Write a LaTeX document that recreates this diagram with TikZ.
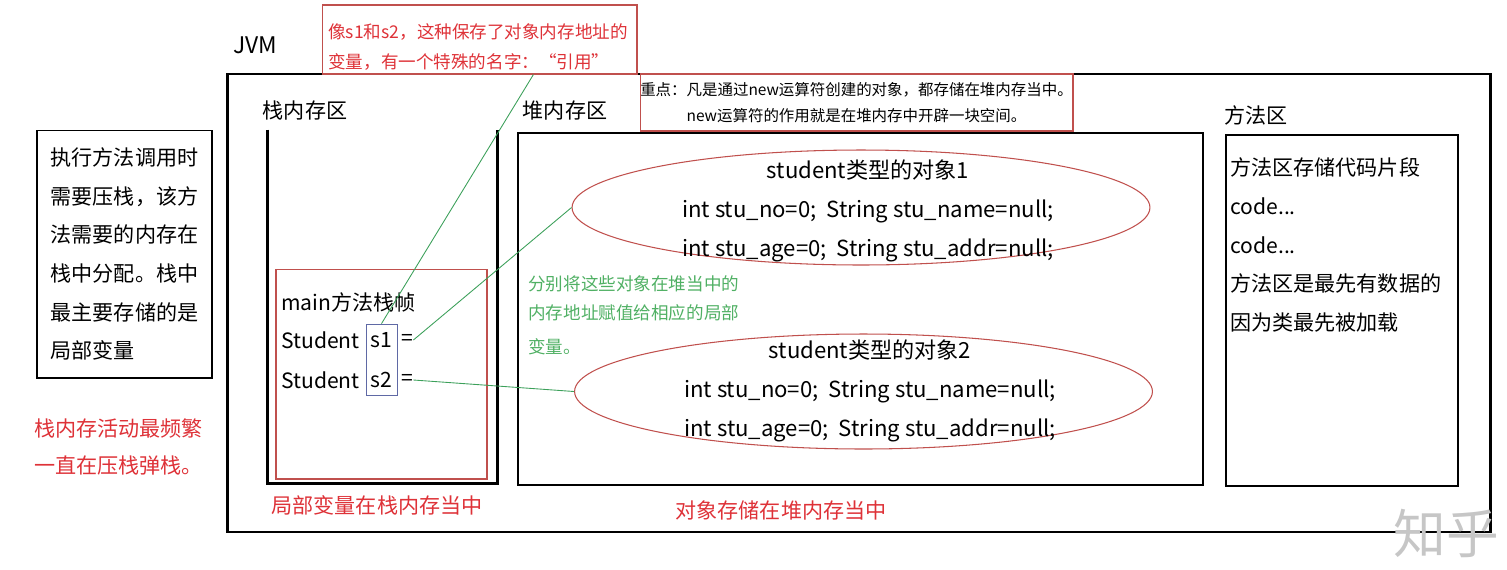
\documentclass[tikz,border=0pt]{standalone}
\usepackage{fontspec}
\setmainfont{Noto Sans CJK SC}
\usepackage{tikz}
\usetikzlibrary{shapes.geometric}
\definecolor{hred}{RGB}{222,50,56}
\definecolor{bred}{RGB}{192,80,77}
\definecolor{lgreen}{RGB}{60,160,90}
\definecolor{tgreen}{RGB}{80,176,100}
\definecolor{sblue}{RGB}{95,105,165}

\begin{document}
\begin{tikzpicture}[x=0.02cm, y=-0.02cm,
      every node/.style={inner sep=0pt, font=\fontsize{12}{22}\selectfont},
      area/.style={draw, line width=1.6pt},
      note/.style={draw=bred, line width=0.6pt},
      txt/.style={anchor=west, align=left},
      link/.style={draw=lgreen, line width=0.5pt},
      obj/.style={ellipse, draw=bred, line width=0.6pt, minimum width=11.56cm, minimum height=2.3cm},
      objtxt/.style={align=center, font=\fontsize{12.6}{22}\selectfont}]
      \useasboundingbox (0,0) rectangle (1507,569);
      \node[area, minimum width=25.28cm, minimum height=9.16cm] (JVM) at (859,303) {};
      \node[font=\fontsize{13}{13}\selectfont] (JL) at (255,45) {JVM};
      \node[note, minimum width=6.3cm, minimum height=1.38cm] (N1) at (479.5,39.5) {};
      \node[txt, text=hred, font=\fontsize{10}{17}\selectfont] (N1t) at (328,47) {像s1和s2，这种保存了对象内存地址的\\变量，有一个特殊的名字：“引用”};
      \node[note, minimum width=8.66cm, minimum height=1.14cm] (N2) at (856.5,102.5) {};
      \node[align=center, font=\fontsize{8.8}{14.7}\selectfont] (N2t) at (856.5,103) {重点：凡是通过new运算符创建的对象，都存储在堆内存当中。\\new运算符的作用就是在堆内存中开辟一块空间。};
      \node[draw, line width=0.6pt, minimum width=3.5cm, minimum height=4.96cm, align=left] (LB) at (124.5,254) {执行方法调用时\\需要压栈，该方\\法需要的内存在\\栈中分配。栈中\\最主要存储的是\\局部变量};
      \node[txt, text=hred, font=\fontsize{12}{21.5}\selectfont] (RS) at (34,447) {栈内存活动最频繁\\一直在压栈弹栈。};
      \node (SL) at (305,111) {栈内存区};
      \node[minimum width=4.58cm, minimum height=7.06cm] (SK) at (382.5,306.5) {};
      \draw[line width=1.6pt] (SK.north west) -- (SK.south west) -- (SK.south east) -- (SK.north east);
      \node[note, minimum width=4.22cm, minimum height=4.2cm] (FR) at (381.5,374) {};
      \node[txt] (MF) at (281,302) {main方法栈帧};
      \node[txt] (T1) at (281,340) {Student};
      \node (S1) at (381.5,340) {s1};
      \node[txt] (Q1) at (401,340) {=};
      \node[txt] (T2) at (281,380) {Student};
      \node (S2) at (381.5,380) {s2};
      \node[txt] (Q2) at (401,380) {=};
      \node[draw=sblue, line width=0.45pt, minimum width=0.62cm, minimum height=1.42cm] (SV) at (381.5,359.5) {};
      \node[text=hred] (RL) at (377,505) {局部变量在栈内存当中};
      \node (HL) at (565,111) {堆内存区};
      \node[area, minimum width=13.7cm, minimum height=7.04cm] (HP) at (860.5,309) {};
      \node[obj] (O1) at (861,207.5) {};
      \node[objtxt] (O1t) at (868,211) {student类型的对象1\\int stu\_no=0;\ \ String stu\_name=null;\\int stu\_age=0;\ \ String stu\_addr=null;};
      \node[obj] (O2) at (863.5,391.5) {};
      \node[objtxt] (O2t) at (870,391) {student类型的对象2\\int stu\_no=0;\ \ String stu\_name=null;\\int stu\_age=0;\ \ String stu\_addr=null;};
      \node[txt, text=tgreen, font=\fontsize{10}{16.5}\selectfont] (GT) at (528,315) {分别将这些对象在堆当中的\\内存地址赋值给相应的局部\\[3pt]变量。};
      \node[text=hred] (RH) at (781,510) {对象存储在堆内存当中};
      \node (ML) at (1256,115) {方法区};
      \node[area, minimum width=4.64cm, minimum height=7.02cm] (MB) at (1342,310.5) {};
      \node[txt] (MBt) at (1230,245) {方法区存储代码片段\\code...\\code...\\方法区是最先有数据的\\因为类最先被加载};
      \node[text=gray!45, font=\fontsize{30}{30}\selectfont] (ZH) at (1446,533) {知乎};
      \draw[link] (SV.north) -- (N1.-33);
      \draw[link] (Q1.east) -- (O1.west);
      \draw[link] (Q2.east) -- (O2.west);
    \end{tikzpicture}
\end{document}
